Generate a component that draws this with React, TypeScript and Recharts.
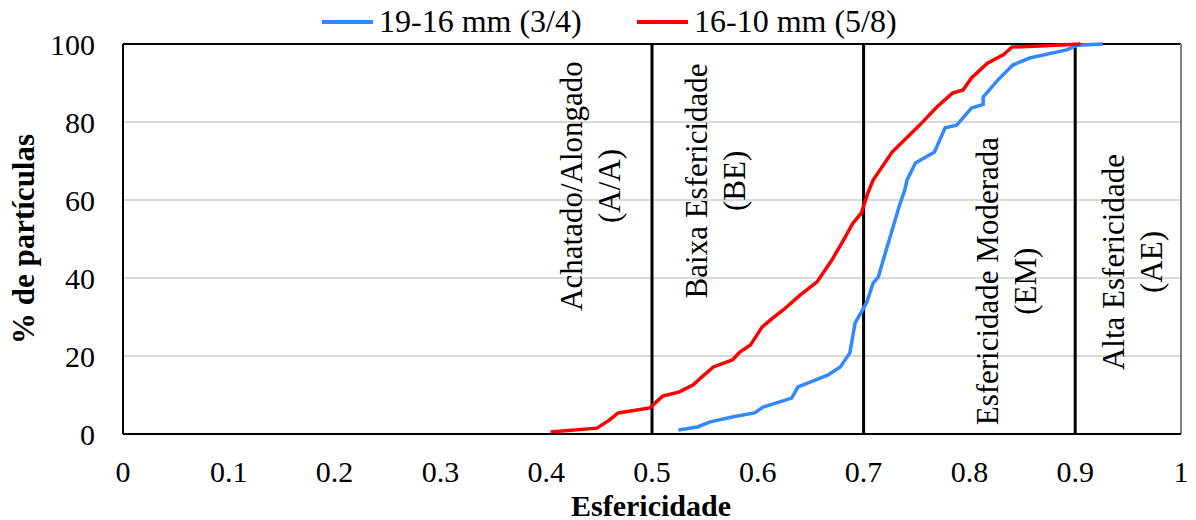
import React from 'react';
import {
  LineChart,
  Line,
  XAxis,
  YAxis,
  CartesianGrid,
  ReferenceLine,
  ReferenceDot,
} from 'recharts';

// sphericity (x) vs cumulative % of particles (y)
const blueX = [0.525, 0.543, 0.555, 0.577, 0.597, 0.605, 0.632, 0.638, 0.666, 0.678, 0.687, 0.692, 0.698, 0.703, 0.709, 0.714, 0.718, 0.727, 0.734, 0.739, 0.741, 0.749, 0.767, 0.777, 0.788, 0.802, 0.813, 0.813, 0.827, 0.841, 0.857, 0.892, 0.902, 0.926];
const blueY = [1.0, 1.8, 3.1, 4.4, 5.4, 6.9, 9.2, 12.1, 15.1, 17.2, 20.8, 28.5, 31.3, 33.8, 38.7, 40.3, 44.1, 52.3, 58.7, 62.6, 65.1, 69.5, 72.3, 78.5, 79.2, 83.6, 84.5, 86.4, 90.8, 94.6, 96.4, 98.5, 99.7, 100];

const redX = [0.404, 0.448, 0.46, 0.468, 0.498, 0.51, 0.526, 0.539, 0.547, 0.558, 0.576, 0.583, 0.593, 0.604, 0.614, 0.624, 0.64, 0.656, 0.67, 0.681, 0.69, 0.698, 0.704, 0.709, 0.727, 0.753, 0.769, 0.784, 0.794, 0.802, 0.817, 0.832, 0.84, 0.867, 0.905];
const redY = [0.5, 1.5, 3.6, 5.4, 6.7, 9.7, 10.8, 12.6, 14.6, 17.2, 19.0, 21.0, 22.8, 27.4, 29.7, 31.8, 35.6, 39.0, 44.6, 49.7, 54.1, 56.7, 61.8, 65.1, 72.3, 79.2, 83.8, 87.4, 88.2, 91.3, 95.1, 97.2, 99.2, 99.5, 100];

const xTicks = [0, 0.1, 0.2, 0.3, 0.4, 0.5, 0.6, 0.7, 0.8, 0.9, 1];
const yTicks = [0, 20, 40, 60, 80, 100];
const classLimits = [0.5, 0.7, 0.9];

const classLabels = [
  { x: 0.442, y: 63.6, lines: ['Achatado/Alongado', '(A/A)'] },
  { x: 0.56, y: 64.9, lines: ['Baixa Esfericidade', '(BE)'] },
  { x: 0.835, y: 39.2, lines: ['Esfericidade Moderada', '(EM)'] },
  { x: 0.954, y: 44.1, lines: ['Alta Esfericidade', '(AE)'] },
];

const series = [
  { name: '19-16 mm (3/4)', color: '#3388ff', xs: blueX, ys: blueY },
  { name: '16-10 mm (5/8)', color: '#ff0000', xs: redX, ys: redY },
];

const FONT = '"Liberation Serif", "Times New Roman", serif';

const zip = (xs: number[], ys: number[]) => xs.map((x, i) => ({ x, y: ys[i] }));

const rotatedLabel = (lines: string[]) => (props: any) => {
  const { cx, cy } = props;
  return (
    <text
      transform={`rotate(-90, ${cx}, ${cy})`}
      textAnchor="middle"
      fontFamily={FONT}
      fontSize={31}
      fill="#000"
    >
      {lines.map((l, i) => (
        <tspan key={i} x={cx} y={cy + (i - (lines.length - 1) / 2) * 38} dy="0.35em">
          {l}
        </tspan>
      ))}
    </text>
  );
};

export default function App() {
  return (
    <div style={{ position: 'absolute', left: 0, top: 0, width: 1196, height: 520, background: '#fff' }}>
      {/* legend */}
      {series.map((s, i) => (
        <div
          key={s.name}
          style={{
            position: 'absolute',
            left: i === 0 ? 322 : 637,
            top: 3,
            display: 'flex',
            alignItems: 'center',
            fontFamily: FONT,
            fontSize: 32,
            color: '#000',
            zIndex: 2,
          }}
        >
          <div style={{ width: 51, height: 4, background: s.color, marginRight: 6 }} />
          <span>{s.name}</span>
        </div>
      ))}
      <LineChart width={1196} height={520} margin={{ top: 44, right: 15, left: 0, bottom: 0 }}>
        <CartesianGrid horizontal vertical={false} stroke="#d9d9d9" strokeWidth={2} />
        <XAxis
          type="number"
          dataKey="x"
          domain={[0, 1]}
          ticks={xTicks}
          height={86}
          tickLine={false}
          tickSize={0}
          tickMargin={27}
          axisLine={{ stroke: '#000', strokeWidth: 2 }}
          tick={{ fontFamily: FONT, fontSize: 30, fill: '#000' }}
          label={{
            content: ({ viewBox }: any) => (
              <text
                x={viewBox.x + viewBox.width / 2 - 1}
                y={505}
                dy="0.35em"
                textAnchor="middle"
                fontFamily={FONT}
                fontWeight="bold"
                fontSize={30}
                fill="#000"
              >
                Esfericidade
              </text>
            ),
          }}
        />
        <YAxis
          type="number"
          dataKey="y"
          domain={[0, 100]}
          ticks={yTicks}
          width={123}
          tickLine={false}
          tickSize={0}
          tickMargin={28}
          axisLine={{ stroke: '#000', strokeWidth: 2 }}
          tick={{ fontFamily: FONT, fontSize: 30, fill: '#000' }}
          label={{
            content: ({ viewBox }: any) => {
              const cx = 23;
              const cy = viewBox.y + viewBox.height / 2;
              return (
                <text
                  transform={`rotate(-90, ${cx}, ${cy})`}
                  x={cx}
                  y={cy}
                  dy="0.35em"
                  textAnchor="middle"
                  fontFamily={FONT}
                  fontWeight="bold"
                  fontSize={31}
                  fill="#000"
                >
                  % de partículas
                </text>
              );
            },
          }}
        />
        <ReferenceLine y={100} stroke="#000" strokeWidth={2} />
        <ReferenceLine x={1} stroke="#7f7f7f" strokeWidth={2} />
        {classLimits.map((v) => (
          <ReferenceLine key={v} x={v} stroke="#000" strokeWidth={3} />
        ))}
        {classLabels.map((c) => (
          <ReferenceDot key={c.lines[1]} x={c.x} y={c.y} r={0} shape={rotatedLabel(c.lines)} />
        ))}
        {series.map((s) => (
          <Line
            key={s.name}
            data={zip(s.xs, s.ys)}
            dataKey="y"
            type="linear"
            stroke={s.color}
            strokeWidth={3.5}
            dot={false}
            activeDot={false}
            isAnimationActive={false}
            name={s.name}
          />
        ))}
      </LineChart>
    </div>
  );
}
